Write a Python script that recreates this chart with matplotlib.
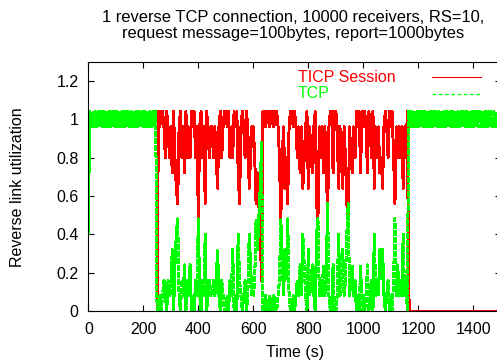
import numpy as np
import matplotlib
matplotlib.use("Agg")
import matplotlib.pyplot as plt
from matplotlib.ticker import FormatStrFormatter

#   Dados (niveis em unidades de 0.08, uma amostra a cada 5 s)
passo = 5
unidade = 0.08

#TCP antes da sessao TICP (t = 0..245)
tcp_inicio = [5, 13, 12, 13, 12, 13, 12, 13, 12, 13,
              12, 13, 12, 13, 12, 13, 12, 13, 12, 13,
              12, 13, 12, 13, 12, 13, 12, 13, 12, 13,
              12, 13, 12, 13, 12, 13, 12, 13, 12, 13,
              12, 13, 12, 13, 12, 13, 12, 13, 12, 13]

#TCP durante a sessao TICP (t = 250..1160)
tcp_meio = [0, 0, 1, 0, 1, 2, 1, 0, 2, 1,
            1, 4, 0, 3, 5, 6, 1, 0, 2, 1,
            3, 0, 2, 1, 3, 0, 1, 0, 2, 1,
            6, 1, 0, 2, 1, 5, 0, 1, 2, 1,
            1, 2, 1, 2, 4, 1, 0, 2, 1, 0,
            0, 1, 0, 2, 1, 4, 0, 1, 0, 5,
            2, 1, 0, 1, 2, 0, 1, 5, 3, 1,
            1, 2, 6, 4, 6, 8, 11, 0, 0, 1,
            0, 0, 1, 0, 0, 1, 0, 0, 1, 2,
            6, 3, 1, 4, 2, 6, 1, 0, 0, 1,
            0, 1, 2, 1, 3, 1, 5, 3, 1, 0,
            4, 1, 2, 3, 1, 0, 5, 6, 1, 2,
            1, 3, 1, 2, 7, 1, 0, 0, 3, 0,
            0, 1, 5, 1, 2, 4, 1, 2, 5, 7,
            1, 2, 3, 1, 2, 0, 1, 0, 3, 0,
            1, 0, 1, 3, 0, 1, 2, 0, 5, 1,
            2, 1, 4, 2, 4, 1, 0, 1, 2, 0,
            1, 0, 2, 6, 1, 3, 1, 2, 1, 5,
            1, 2, 0]

#TCP depois da sessao (t = 1165..1485)
tcp_fim = [13, 12, 13, 12, 13, 12, 13, 12, 13, 12,
           13, 12, 13, 12, 13, 12, 13, 12, 13, 12,
           13, 12, 13, 12, 13, 12, 13, 12, 13, 12,
           13, 12, 13, 12, 13, 12, 13, 12, 13, 12,
           13, 12, 13, 12, 13, 12, 13, 12, 13, 12,
           13, 12, 13, 12, 13, 12, 13, 12, 13, 12,
           13, 12, 13, 12, 13]

#Sessao TICP (t = 250..1160)
ticp_meio = [0, 13, 12, 13, 13, 12, 10, 13, 12, 10,
             12, 9, 13, 10, 8, 7, 12, 13, 10, 12,
             9, 13, 10, 12, 10, 13, 12, 13, 10, 12,
             6, 12, 13, 10, 12, 7, 13, 12, 10, 12,
             12, 10, 12, 10, 8, 12, 13, 10, 12, 13,
             13, 12, 13, 10, 12, 10, 13, 12, 13, 9,
             7, 12, 13, 12, 10, 13, 12, 8, 10, 12,
             12, 10, 7, 9, 7, 5, 2, 13, 13, 12,
             13, 13, 12, 13, 13, 12, 13, 13, 12, 10,
             6, 10, 12, 8, 10, 7, 12, 13, 13, 12,
             13, 12, 10, 12, 9, 12, 8, 10, 12, 13,
             8, 12, 10, 9, 12, 13, 7, 6, 12, 10,
             12, 9, 12, 10, 6, 12, 13, 13, 9, 13,
             13, 12, 8, 12, 10, 8, 12, 10, 7, 6,
             12, 10, 9, 12, 10, 13, 12, 13, 9, 13,
             12, 13, 12, 9, 13, 12, 10, 13, 8, 12,
             10, 12, 9, 10, 8, 12, 13, 12, 10, 13,
             12, 13, 10, 7, 12, 10, 12, 10, 12, 8,
             12, 10, 13]

#Sessao TICP terminada (t = 1165..1485)
ticp_fim = [1, 0, 0, 0, 0, 0, 0, 0, 0, 0,
            0, 0, 0, 0, 0, 0, 0, 0, 0, 0,
            0, 0, 0, 0, 0, 0, 0, 0, 0, 0,
            0, 0, 0, 0, 0, 0, 0, 0, 0, 0,
            0, 0, 0, 0, 0, 0, 0, 0, 0, 0,
            0, 0, 0, 0, 0, 0, 0, 0, 0, 0,
            0, 0, 0, 0, 0]

titulo = ("1 reverse TCP connection, 10000 receivers, RS=10,\n"
          "request message=100bytes, report=1000bytes")
x_ticks = [0, 200, 400, 600, 800, 1000, 1200, 1400]
y_ticks = [0, 0.2, 0.4, 0.6, 0.8, 1.0, 1.2]

#   Montar series
tcp = np.array(tcp_inicio + tcp_meio + tcp_fim) * unidade
t_tcp = np.arange(len(tcp)) * passo
ticp = np.array(ticp_meio + ticp_fim) * unidade
t_ticp = len(tcp_inicio) * passo + np.arange(len(ticp)) * passo

plt.rcParams["font.family"] = ["Liberation Sans", "DejaVu Sans"]
plt.rcParams["font.size"] = 11.5

fig = plt.figure(figsize=(4.97, 3.62), dpi=100)
ax = fig.add_axes([0.1777, 0.1409, 0.830, 0.6887])

ax.plot(t_ticp, ticp, color="#ff0000", linewidth=1.4, antialiased=False)
ax.plot(t_tcp, tcp, color="#00ff00", linewidth=1.5, dashes=(2.6, 0.9),
        antialiased=False)

ax.set_xlim(0, 1500)
ax.set_ylim(0, 1.3)
ax.set_xticks(x_ticks)
ax.set_yticks(y_ticks)
ax.yaxis.set_major_formatter(FormatStrFormatter("%g"))
ax.tick_params(direction="in", top=True, right=True, length=4.5, width=0.8)
ax.tick_params(axis="x", pad=8)
ax.tick_params(axis="y", pad=7)

#Legenda no estilo do gnuplot (texto a esquerda, amostra a direita)
ax.text(0.508, 0.938, "TICP Session", color="#ff0000", transform=ax.transAxes,
        ha="left", va="center")
ax.text(0.508, 0.874, "TCP", color="#00ff00", transform=ax.transAxes,
        ha="left", va="center")
ax.plot([0.8325, 0.952], [0.937, 0.937], color="#ff0000", linewidth=0.8,
        transform=ax.transAxes)
ax.plot([0.8325, 0.952], [0.870, 0.870], color="#00ff00", linewidth=0.9,
        dashes=(3, 2), transform=ax.transAxes)

fig.text(0.59, 0.9296, titulo, ha="center", va="center", linespacing=1.05,
         fontsize=11.9)
fig.text(0.036, 0.4834, "Reverse link utilization", rotation=90,
         ha="center", va="center")
fig.text(0.5936, 0.0249, "Time (s)", ha="center", va="center")

fig.savefig("out.png", dpi=100)
